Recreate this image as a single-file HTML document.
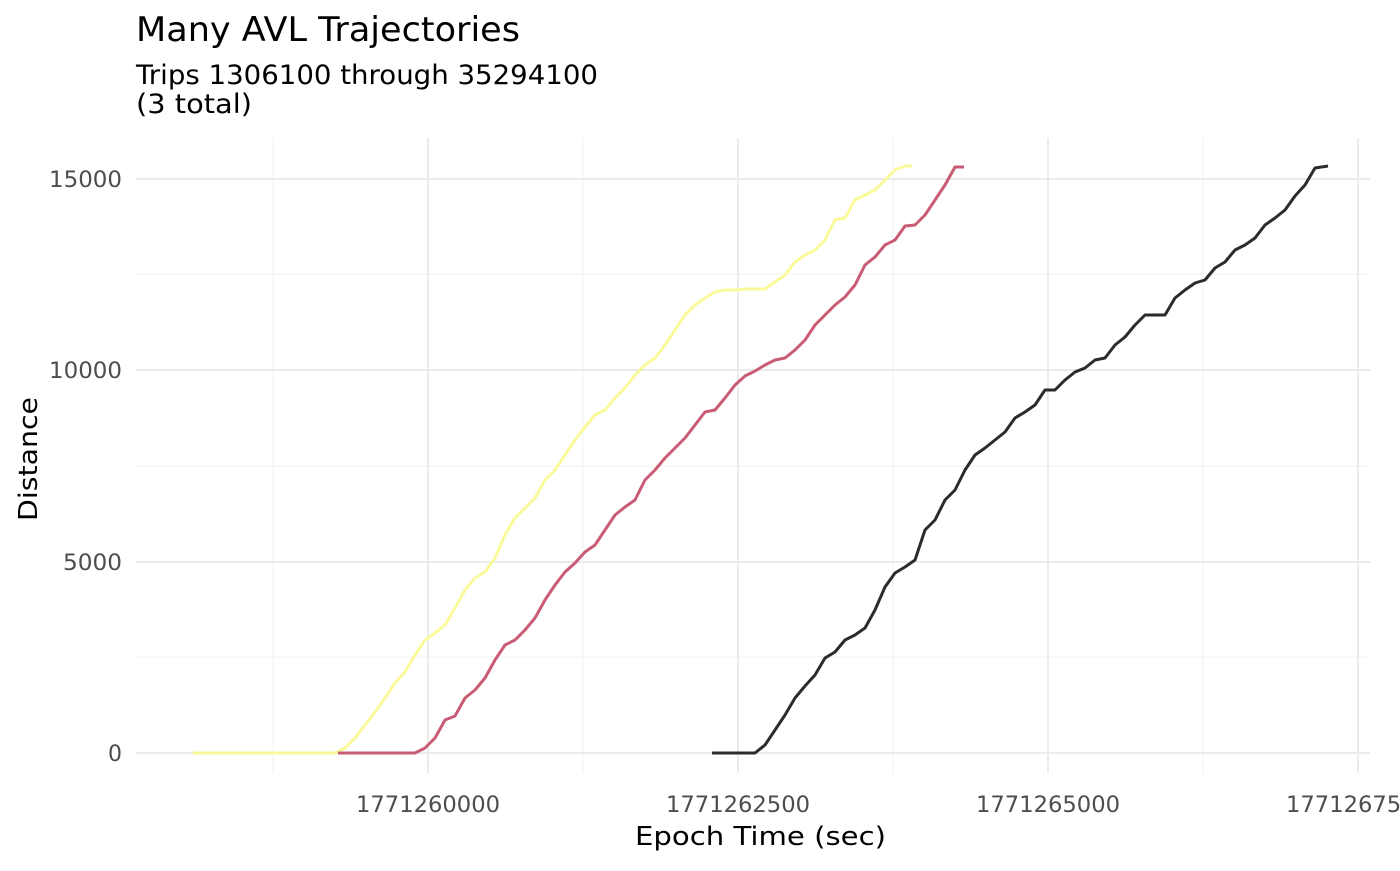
<!DOCTYPE html>
<html><head><meta charset="utf-8"><style>
html,body{margin:0;padding:0;background:#fff;}
svg text{font-family:"DejaVu Sans","Liberation Sans",sans-serif;}
</style></head><body>
<svg width="1400" height="866" viewBox="0 0 1400 866" xmlns="http://www.w3.org/2000/svg">
<rect width="1400" height="866" fill="#fff"/>
<g stroke="#f0f0f0" stroke-width="1">
<line x1="136" x2="1370" y1="657" y2="657"/><line x1="136" x2="1370" y1="466" y2="466"/><line x1="136" x2="1370" y1="274" y2="274"/>
<line x1="273" x2="273" y1="138" y2="773"/><line x1="583" x2="583" y1="138" y2="773"/><line x1="893" x2="893" y1="138" y2="773"/><line x1="1203" x2="1203" y1="138" y2="773"/>
</g>
<g stroke="#ebebeb" stroke-width="2">
<line x1="136" x2="1370" y1="753" y2="753"/><line x1="136" x2="1370" y1="562" y2="562"/><line x1="136" x2="1370" y1="370" y2="370"/><line x1="136" x2="1370" y1="179" y2="179"/>
<line x1="428" x2="428" y1="138" y2="773"/><line x1="738" x2="738" y1="138" y2="773"/><line x1="1048" x2="1048" y1="138" y2="773"/><line x1="1358" x2="1358" y1="138" y2="773"/>
</g>
<g fill="none" stroke-width="3" stroke-linejoin="round">
<polyline stroke="#fafa9a" points="193,753 335,753 345,748 355,738 365,725 375,712 385,698 395,683 405,672 415,655 425,640 435,633 445,625 455,608 465,590 475,578 485,572 495,558 505,535 515,518 525,508 535,498 545,480 555,470 565,455 575,440 585,427 595,415 605,410 615,398 625,388 635,375 645,365 655,358 665,345 675,330 685,315 695,305 705,298 715,292 725,290 735,290 745,289 765,289 775,282 785,275 795,262 805,255 815,250 825,240 835,220 845,218 855,200 865,195 875,190 885,180 895,170 905,166 912,166"/>
<polyline stroke="#c95b74" points="338,753 415,753 425,748 435,738 445,720 455,716 465,698 475,690 485,678 495,660 505,645 515,640 525,630 535,618 545,600 555,585 565,572 575,563 585,552 595,545 605,530 615,515 625,507 635,500 645,480 655,470 665,458 675,448 685,438 695,425 705,412 715,410 725,398 735,385 745,376 755,371 765,365 775,360 785,358 795,350 805,340 815,325 825,315 835,305 845,297 855,285 865,265 875,257 885,245 895,240 905,226 915,225 925,215 935,200 945,185 955,167 964,167"/>
<polyline stroke="#2b2b2b" points="712,753 755,753 765,745 775,730 785,715 795,698 805,686 815,675 825,658 835,652 845,640 855,635 865,628 875,610 885,587 895,573 905,567 915,560 925,530 935,520 945,500 955,490 965,470 975,455 985,448 995,440 1005,432 1015,418 1025,412 1035,405 1045,390 1055,390 1065,380 1075,372 1085,368 1095,360 1105,358 1115,345 1125,337 1135,325 1145,315 1165,315 1175,298 1185,290 1195,283 1205,280 1215,268 1225,262 1235,250 1245,245 1255,238 1265,225 1275,218 1285,210 1295,196 1305,185 1315,168 1328,166"/>
</g>
<g fill="#4d4d4d" font-size="22">
<text x="108" y="761" textLength="14" lengthAdjust="spacingAndGlyphs">0</text>
<text x="63" y="570" textLength="59" lengthAdjust="spacingAndGlyphs">5000</text>
<text x="49" y="378" textLength="73" lengthAdjust="spacingAndGlyphs">10000</text>
<text x="49" y="187" textLength="73" lengthAdjust="spacingAndGlyphs">15000</text>
</g>
<g fill="#4d4d4d" font-size="22">
<text x="356" y="812" textLength="144" lengthAdjust="spacingAndGlyphs">1771260000</text>
<text x="666" y="812" textLength="144" lengthAdjust="spacingAndGlyphs">1771262500</text>
<text x="976" y="812" textLength="144" lengthAdjust="spacingAndGlyphs">1771265000</text>
<text x="1286" y="812" textLength="144" lengthAdjust="spacingAndGlyphs">1771267500</text>
</g>
<text x="635" y="845" font-size="26" fill="#000" textLength="251" lengthAdjust="spacingAndGlyphs">Epoch Time (sec)</text>
<text transform="translate(37,521) rotate(-90)" font-size="26" fill="#000" textLength="124" lengthAdjust="spacingAndGlyphs">Distance</text>
<text x="136" y="41" font-size="34" fill="#000" textLength="384" lengthAdjust="spacingAndGlyphs">Many AVL Trajectories</text>
<text x="136" y="84" font-size="27" fill="#000" textLength="462" lengthAdjust="spacingAndGlyphs">Trips 1306100 through 35294100</text>
<text x="136" y="113" font-size="27" fill="#000" textLength="116" lengthAdjust="spacingAndGlyphs">(3 total)</text>
</svg>
</body></html>
